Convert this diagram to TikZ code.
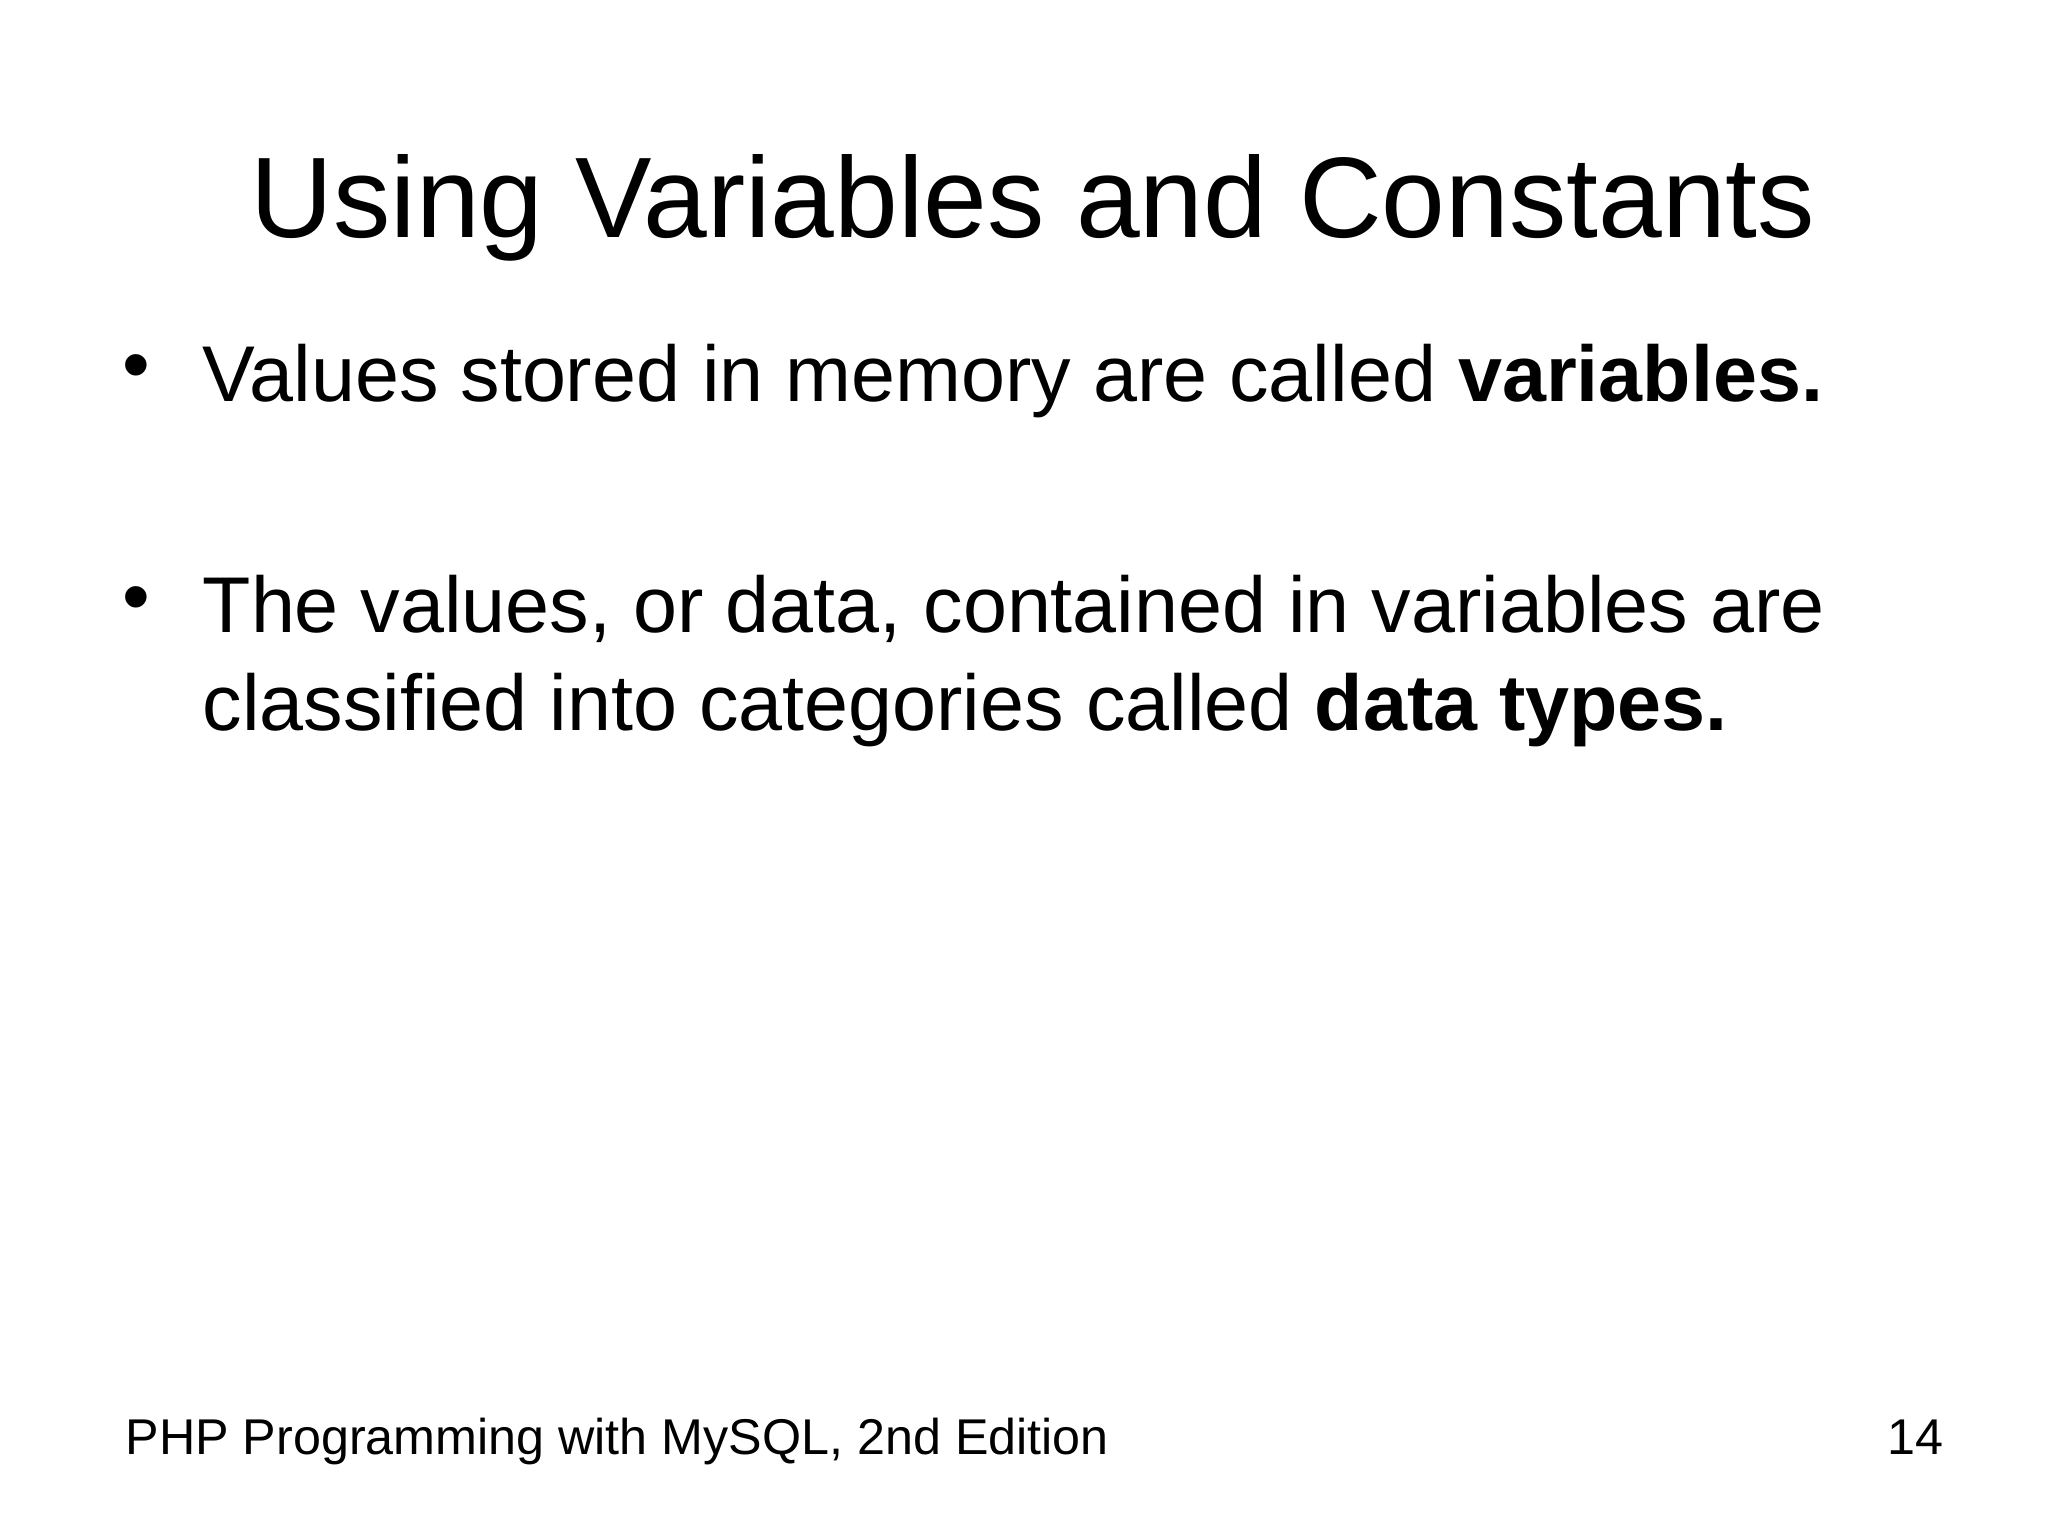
\documentclass[tikz,border=0pt]{standalone}
\usepackage{fontspec}
\setmainfont{Liberation Sans}
\begin{document}
\begin{tikzpicture}[x=1cm,y=-1cm,
  txt/.style={inner sep=0pt,anchor=base west,font=\fontsize{22.5pt}{27pt}\selectfont},
  foot/.style={inner sep=0pt,font=\fontsize{14.3pt}{17pt}\selectfont}]
\useasboundingbox (0,0) rectangle (20.48,15.36);
\fill[white] (0,0) rectangle (20.48,15.36);
\node[inner sep=0pt,anchor=base,font=\fontsize{32.6pt}{39pt}\selectfont] (title) at (10.33,2.38) {Using Variables and Constants};
\node[txt,anchor=base] (b1) at (1.36,3.92) {\textbullet};
\node[txt] (t1) at (2.02,4.02) {Values stored in memory are called \textbf{variables.}};
\node[txt,anchor=base] (b2) at (1.36,6.23) {\textbullet};
\node[txt] (t2) at (2.02,6.33) {The values, or data, contained in variables are};
\node[txt] (t3) at (2.02,7.30) {classified into categories called \textbf{data types.}};
\node[foot,anchor=base west] (f1) at (1.25,14.54) {PHP Programming with MySQL, 2nd Edition};
\node[foot,anchor=base east] (f2) at (19.44,14.54) {14};
\end{tikzpicture}
\end{document}
